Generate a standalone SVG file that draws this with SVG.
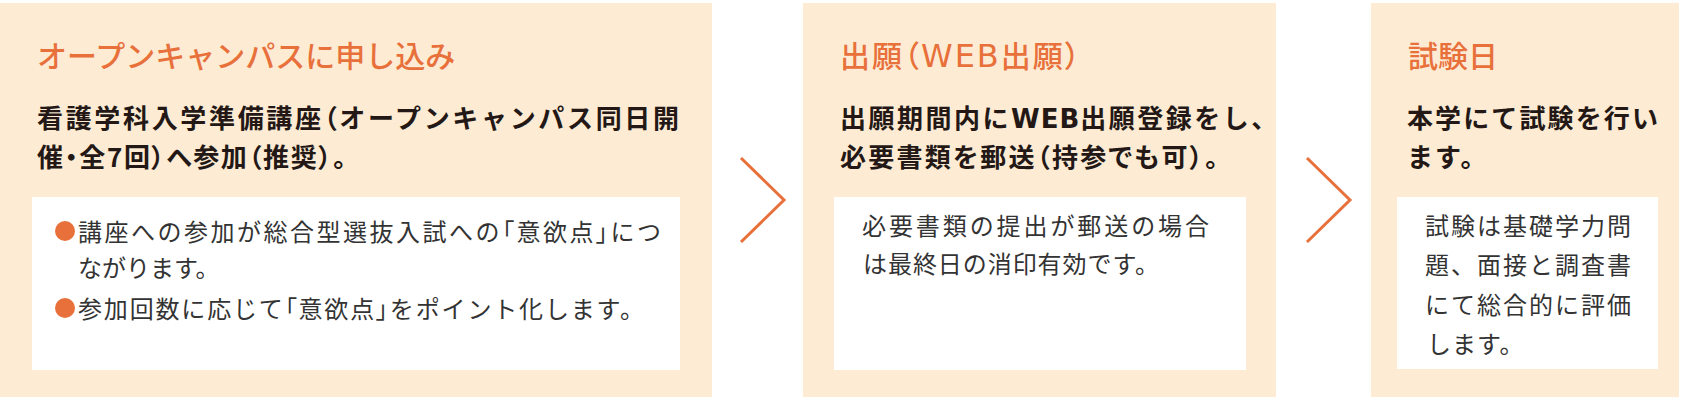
<svg xmlns="http://www.w3.org/2000/svg" width="1684" height="400" viewBox="0 0 1684 400">
<style>
.bg{fill:#FFFFFF}
.panel{fill:#FDEBD4}
.box{fill:#FFFFFF}
text{font-family:"Noto Sans CJK JP","Noto Sans CJK SC",sans-serif}
.title{font-size:30px;font-weight:500;fill:#E8703A}
.body{font-size:26px;font-weight:700;fill:#231815;letter-spacing:1px}
.note{font-size:24px;font-weight:400;fill:#333333;letter-spacing:1px}
.palt{font-feature-settings:"palt"}
.latin{font-family:"DejaVu Sans","Noto Sans CJK JP",sans-serif}
.bullet{fill:#E8703A}
.chev{fill:none;stroke:#E8703A;stroke-width:3;stroke-linejoin:miter}
</style>
<rect class="bg" x="0" y="0" width="1684" height="400"/>

<g id="node-open-campus">
  <rect class="panel" x="0" y="3" width="712" height="394"/>
  <text class="title" x="37" y="67">オープンキャンパスに申し込み</text>
  <text class="body" x="37" y="128" textLength="643">看護学科入学準備講座<tspan class="palt">（</tspan>オープンキャンパス同日開</text>
  <text class="body palt" x="37" y="167" textLength="310">催・全7回）へ参加（推奨）。</text>
  <rect class="box" x="32" y="197" width="648" height="173"/>
  <circle class="bullet" cx="65" cy="231" r="10"/>
  <text class="note" x="78" y="241" textLength="584">講座への参加が総合型選抜入試への<tspan class="palt">「</tspan>意欲点<tspan class="palt">」</tspan>につ</text>
  <text class="note" x="78" y="277" style="letter-spacing:0">ながります。</text>
  <circle class="bullet" cx="65" cy="308" r="10"/>
  <text class="note" x="78" y="318" textLength="567">参加回数に応じて<tspan class="palt">「</tspan>意欲点<tspan class="palt">」</tspan>をポイント化します。</text>
</g>

<g id="node-application">
  <rect class="panel" x="803" y="3" width="473" height="394"/>
  <text class="title palt" x="840" y="67" style="letter-spacing:2px">出願（<tspan class="latin" style="font-size:32px;letter-spacing:2px">WEB</tspan>出願）</text>
  <text class="body" x="840" y="128" style="letter-spacing:2.5px">出願期間内に<tspan class="latin" style="letter-spacing:1px">WEB</tspan>出願登録をし、</text>
  <text class="body palt" x="840" y="167" textLength="379">必要書類を郵送（持参でも可）。</text>
  <rect class="box" x="834" y="197" width="412" height="173"/>
  <text class="note" x="862" y="235" textLength="348">必要書類の提出が郵送の場合</text>
  <text class="note" x="863" y="273" textLength="297">は最終日の消印有効です。</text>
</g>

<g id="node-exam-day">
  <rect class="panel" x="1371" y="3" width="308" height="394"/>
  <text class="title" x="1408" y="67">試験日</text>
  <text class="body" x="1407" y="128" textLength="252">本学にて試験を行い</text>
  <text class="body" x="1407" y="167" style="letter-spacing:2px">ます。</text>
  <rect class="box" x="1397" y="197" width="261" height="172"/>
  <text class="note" x="1425" y="235" textLength="207">試験は基礎学力問</text>
  <text class="note" x="1425" y="274" textLength="207">題、面接と調査書</text>
  <text class="note" x="1425" y="314" textLength="207">にて総合的に評価</text>
  <text class="note" x="1427" y="353">します。</text>
</g>

<g id="connectors">
  <polyline class="chev" points="741,158 784,200 741,242"/>
  <polyline class="chev" points="1307,158 1350,200 1307,242"/>
</g>
</svg>
